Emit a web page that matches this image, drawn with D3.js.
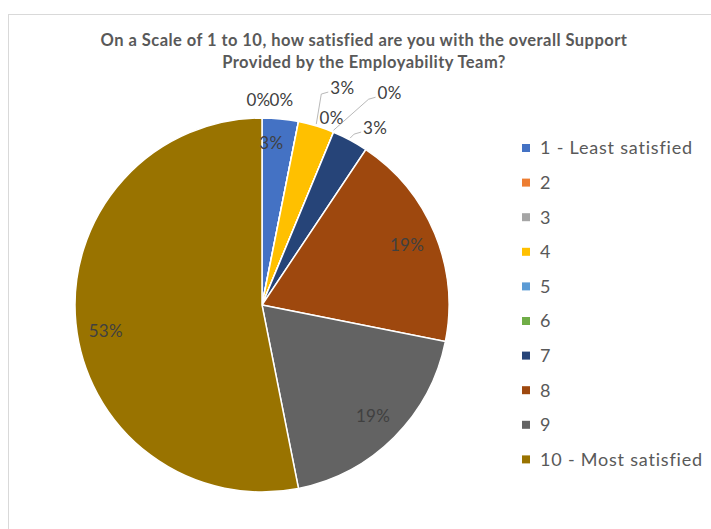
<!DOCTYPE html>
<html>
<head>
<meta charset="utf-8">
<script src="https://cdn.jsdelivr.net/npm/d3@7"></script>
<style>
  body { margin: 0; background: #fff; }
  svg text { font-family: Lato, "Open Sans", sans-serif; }
</style>
</head>
<body>
<svg></svg>
<script>
// chart data (32 responses)
var categories = ["1 - Least satisfied", "2", "3", "4", "5", "6", "7", "8", "9", "10 - Most satisfied"];
var counts = [1, 0, 0, 1, 0, 0, 1, 6, 6, 17];
var colors = ["#4472C4", "#ED7D31", "#A5A5A5", "#FFC000", "#5B9BD5", "#70AD47", "#264478", "#9E480E", "#636363", "#997300"];
var titleLines = ["On a Scale of 1 to 10, how satisfied are you with the overall Support",
                  "Provided by the Employability Team?"];

window.onload = function() {
  var width = 711, height = 529;
  var svg = d3.select("svg").attr("width", width).attr("height", height);

  // chart area border
  svg.append("rect")
    .attr("x", 8.5).attr("y", 14.5)
    .attr("width", 720).attr("height", 540)
    .attr("fill", "none").attr("stroke", "#d9d9d9");

  svg.selectAll("text.title")
    .data(titleLines).enter()
    .append("text")
    .attr("class", "title")
    .attr("x", 364)
    .attr("y", function(d, i) { return 46 + i * 22; })
    .attr("text-anchor", "middle")
    .attr("font-size", 16.5)
    .attr("letter-spacing", 0.45)
    .attr("font-weight", "bold")
    .attr("fill", "#595959")
    .text(function(d) { return d; });

  var cx = 262, cy = 305, r = 187;
  var total = d3.sum(counts);
  var data = categories.map(function(c, i) {
    return { name: c, value: counts[i], color: colors[i], idx: i };
  });

  var pie = d3.pie().sort(null).value(function(d) { return d.value; });
  var arcs = pie(data);
  var arc = d3.arc().innerRadius(0).outerRadius(r);
  var labelArc = d3.arc().innerRadius(157).outerRadius(157);

  var g = svg.append("g").attr("transform", "translate(" + cx + "," + cy + ")");

  g.selectAll("path")
    .data(arcs).enter()
    .append("path")
    .attr("d", arc)
    .attr("fill", function(d) { return d.data.color; })
    .attr("stroke", "#fff")
    .attr("stroke-width", 1.5);

  function pct(d) { return Math.round(d.data.value / total * 100) + "%"; }

  // labels that fit inside the slice (small shifts as Excel's best fit)
  var inShift = { 0: [-6, -6], 9: [0, 11] };
  var inside = arcs.filter(function(d) { return d.data.value / total > 0.1 || d.data.idx === 0; });
  g.selectAll("text.inlabel")
    .data(inside).enter()
    .append("text")
    .attr("class", "inlabel")
    .attr("transform", function(d) {
      var p = labelArc.centroid(d);
      var s = inShift[d.data.idx] || [0, 0];
      return "translate(" + [p[0] + s[0], p[1] + s[1]] + ")";
    })
    .attr("dy", "0.35em")
    .attr("text-anchor", "middle")
    .attr("font-size", 17)
    .attr("letter-spacing", 0.3)
    .attr("fill", "#404040")
    .text(pct);

  // small slices: labels pushed outside, nudged apart like Excel does
  var nudge = {
    1: { dx: -40, dy: -22, leader: false },
    2: { dx: -17, dy: -22, leader: false },
    3: { dx: 26, dy: -38, leader: true },
    4: { dx: -2, dy: -14, leader: false },
    5: { dx: 56, dy: -39, leader: true },
    6: { dx: 25, dy: -12, leader: true }
  };
  var outside = arcs.filter(function(d) { return nudge[d.data.idx] !== undefined; });
  var edgeArc = d3.arc().innerRadius(r).outerRadius(r);

  outside.forEach(function(d) {
    var n = nudge[d.data.idx];
    var a = edgeArc.centroid(d);
    var lx = a[0] + n.dx, ly = a[1] + n.dy;
    if (n.leader) {
      var ex = lx - 14, ey = ly + 4;
      g.append("path")
        .attr("d", d3.line()([[a[0], a[1] - 2], [ex - 7, ey + 2], [ex, ey]]))
        .attr("fill", "none")
        .attr("stroke", "#a6a6a6")
        .attr("stroke-width", 0.8);
    }
    g.append("text")
      .attr("x", lx).attr("y", ly)
      .attr("dy", "0.35em")
      .attr("text-anchor", "middle")
      .attr("font-size", 17)
      .attr("letter-spacing", 0.3)
      .attr("fill", "#404040")
      .text(pct(d));
  });

  // legend
  var legend = svg.selectAll("g.legend")
    .data(data).enter()
    .append("g")
    .attr("class", "legend")
    .attr("transform", function(d, i) { return "translate(522," + (148 + i * 34.6) + ")"; });

  legend.append("rect")
    .attr("x", 0).attr("y", -4)
    .attr("width", 8).attr("height", 8)
    .attr("fill", function(d) { return d.color; });

  legend.append("text")
    .attr("x", 18)
    .attr("dy", "0.36em")
    .attr("font-size", 18)
    .attr("letter-spacing", 0.8)
    .attr("fill", "#595959")
    .text(function(d) { return d.name; });
};
</script>
</body>
</html>
